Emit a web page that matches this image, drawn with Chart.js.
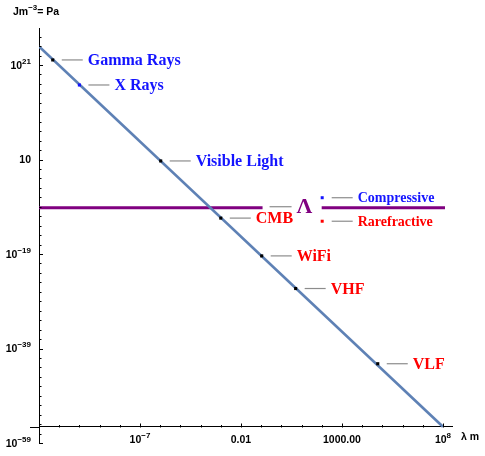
<!DOCTYPE html>
<html>
<head>
<meta charset="utf-8">
<script src="https://cdn.jsdelivr.net/npm/chart.js@4.4.1/dist/chart.umd.min.js"></script>
<style>
  html, body { margin: 0; padding: 0; background: #fff; }
  #wrap { width: 485px; height: 456px; }
</style>
</head>
<body>
<div id="wrap"><canvas id="my-chart"></canvas></div>
<script>
// straight line of radiation pressure vs wavelength (log-log), end points
var lineLambda = [1e-12, 1e8];
var linePressure = [8.7e24, 2.8e-56];

// marked bands on the line
var bandNames = ['Gamma Rays', 'X Rays', 'Visible Light', 'CMB', 'WiFi', 'VHF', 'VLF'];
var bandLambda = [4.8e-12, 1e-10, 1.06e-6, 1e-3, 0.106, 5.1, 5.9e4];
var bandPressure = [1.2e22, 6e16, 5, 4e-12, 4e-20, 5e-27, 6e-43];

// cosmological constant pressure (horizontal line, broken where its label sits)
var lambdaPressure = 6.3e-10;
var lambdaLineX = [1e-12, 0.117, 99, 1.26e8];
var legendNames = ['Compressive', 'Rarefractive'];

// tick labels ("^" marks the exponent)
var xTickValues = [1e-7, 1e-2, 1e3, 1e8];
var xTickLabels = ['10^-7', '0.01', '1000.00', '10^8'];
var yTickValues = [1e21, 10, 1e-19, 1e-39, 1e-59];
var yTickLabels = ['10^21', '10', '10^-19', '10^-39', '10^-59'];

var dotColors = ['#000', '#1414ff', '#000', '#000', '#000', '#000', '#000'];
var textColors = ['#1414ff', '#1414ff', '#1414ff', '#f00', '#f00', '#f00', '#f00'];

function sameDecade(a, b) {
    return Math.abs(Math.log10(a) - Math.log10(b)) < 1e-6;
}
function labelFor(values, labels, v) {
    for (var i = 0; i < values.length; i++) {
        if (sameDecade(values[i], v)) return labels[i];
    }
    return '';
}

// draws "base^exp" with a raised, smaller exponent; returns the end x
function drawSup(ctx, text, x, y, align, tail) {
    var parts = text.split('^');
    var base = parts[0], exp = (parts[1] || '').replace('-', '−');
    ctx.font = 'bold 10.5px "Liberation Sans"';
    var wb = ctx.measureText(base).width;
    ctx.font = 'bold 8px "Liberation Sans"';
    var we = exp ? ctx.measureText(exp).width : 0;
    ctx.font = 'bold 10.5px "Liberation Sans"';
    var wt = tail ? ctx.measureText(tail).width : 0;
    var total = wb + we + wt;
    var sx = align === 'right' ? x - total : (align === 'center' ? x - total / 2 : x);
    ctx.textAlign = 'left';
    ctx.textBaseline = 'middle';
    ctx.fillText(base, sx, y);
    if (exp) {
        ctx.font = 'bold 8px "Liberation Sans"';
        ctx.fillText(exp, sx + wb, y - 4.5);
    }
    if (tail) {
        ctx.font = 'bold 10.5px "Liberation Sans"';
        ctx.fillText(tail, sx + wb + we, y);
    }
}

var xMinor = [];
for (var k = -12; k <= 8; k++) xMinor.push(Math.pow(10, k));
var yMinor = [];
for (var k = -59; k <= 28; k += 2) yMinor.push(Math.pow(10, k));

// inward tick marks, tick labels and axis names
var axisDecor = {
    id: 'axisDecor',
    afterDraw: function (chart) {
        var ctx = chart.ctx, xs = chart.scales.x, ys = chart.scales.y;
        var axisY = Math.round(ys.getPixelForValue(linePressure[1])) + 0.5;
        ctx.save();
        ctx.strokeStyle = '#000';
        ctx.lineWidth = 1;
        ctx.beginPath();
        ctx.moveTo(xs.left - 9, axisY);
        ctx.lineTo(xs.left, axisY);
        xs.ticks.forEach(function (t) {
            var px = Math.round(xs.getPixelForValue(t.value)) + 0.5;
            var len = labelFor(xTickValues, xTickLabels, t.value) ? 4 : 2.5;
            ctx.moveTo(px, axisY);
            ctx.lineTo(px, axisY - len);
        });
        ys.ticks.forEach(function (t) {
            var py = Math.round(ys.getPixelForValue(t.value)) + 0.5;
            var len = labelFor(yTickValues, yTickLabels, t.value) ? 4 : 2.5;
            ctx.moveTo(xs.left, py);
            ctx.lineTo(xs.left + len, py);
        });
        ctx.stroke();

        ctx.fillStyle = '#000';
        for (var i = 0; i < xTickValues.length; i++) {
            drawSup(ctx, xTickLabels[i], xs.getPixelForValue(xTickValues[i]), axisY + 13, 'center');
        }
        for (var j = 0; j < yTickValues.length; j++) {
            drawSup(ctx, yTickLabels[j], xs.left - 8, ys.getPixelForValue(yTickValues[j]) + 1, 'right');
        }
        drawSup(ctx, 'λ m', xs.right + 9, axisY + 10, 'left');
        drawSup(ctx, 'Jm^-3', 13, 12, 'left', '= Pa');
        ctx.restore();
    }
};

// callout labels with grey leaders
var callouts = {
    id: 'callouts',
    afterDatasetsDraw: function (chart) {
        var ctx = chart.ctx, xs = chart.scales.x, ys = chart.scales.y;
        ctx.save();
        ctx.textBaseline = 'middle';
        ctx.textAlign = 'left';
        for (var i = 0; i < bandNames.length; i++) {
            var px = xs.getPixelForValue(bandLambda[i]);
            var py = ys.getPixelForValue(bandPressure[i]);
            ctx.strokeStyle = '#8c8c8c';
            ctx.lineWidth = 1.2;
            ctx.beginPath();
            ctx.moveTo(px + 9, py);
            ctx.lineTo(px + 30, py);
            ctx.stroke();
            ctx.fillStyle = textColors[i];
            ctx.font = 'bold 16px "Liberation Serif"';
            ctx.fillText(bandNames[i], px + 35, py + 1);
        }
        // Λ label in the gap of the purple line
        var gx = xs.getPixelForValue(lambdaLineX[1]);
        var gy = ys.getPixelForValue(lambdaPressure);
        ctx.strokeStyle = '#8c8c8c';
        ctx.beginPath();
        ctx.moveTo(gx + 7, gy - 1);
        ctx.lineTo(gx + 29, gy - 1);
        ctx.stroke();
        ctx.fillStyle = '#800080';
        ctx.font = 'bold 22px "Liberation Serif"';
        ctx.fillText('Λ', gx + 34, gy);
        // small legend
        var lx = xs.getPixelForValue(lambdaLineX[2]);
        var rows = [gy - 10, gy + 13.5];
        var cols = ['#1414ff', '#f00'];
        ctx.font = 'bold 14px "Liberation Serif"';
        for (var j = 0; j < legendNames.length; j++) {
            ctx.fillStyle = cols[j];
            ctx.fillRect(lx - 1, rows[j] - 1.5, 3, 3);
            ctx.strokeStyle = '#8c8c8c';
            ctx.beginPath();
            ctx.moveTo(lx + 10, rows[j]);
            ctx.lineTo(lx + 31, rows[j]);
            ctx.stroke();
            ctx.fillText(legendNames[j], lx + 36, rows[j] + 1);
        }
        ctx.restore();
    }
};

var ctx = document.getElementById('my-chart');

var myChart = new Chart(ctx, {
    type: 'scatter',
    data: {
        datasets: [
            {
                label: 'bands',
                data: bandLambda.map(function (l, i) { return { x: l, y: bandPressure[i] }; }),
                backgroundColor: dotColors,
                borderWidth: 0,
                pointRadius: 2.2,
                pointStyle: 'rect'
            },
            {
                label: 'pressure',
                data: lineLambda.map(function (l, i) { return { x: l, y: linePressure[i] }; }),
                showLine: true,
                borderColor: '#5e81b5',
                borderWidth: 2.6,
                pointRadius: 0
            },
            {
                label: 'Λ',
                data: [
                    { x: lambdaLineX[0], y: lambdaPressure },
                    { x: lambdaLineX[1], y: lambdaPressure },
                    { x: lambdaLineX[1], y: null },
                    { x: lambdaLineX[2], y: lambdaPressure },
                    { x: lambdaLineX[3], y: lambdaPressure }
                ],
                showLine: true,
                spanGaps: false,
                borderColor: '#800080',
                borderWidth: 3,
                pointRadius: 0
            }
        ]
    },
    options: {
        responsive: true,
        maintainAspectRatio: false,
        animation: false,
        layout: { padding: { left: 0, top: 28, right: 33, bottom: 13 } },
        plugins: {
            legend: { display: false },
            tooltip: { enabled: false }
        },
        scales: {
            x: {
                type: 'logarithmic',
                min: 1e-12,
                max: 2.8e8,
                position: { y: linePressure[1] },
                grid: { display: false },
                border: { display: true, color: '#000', width: 1 },
                ticks: { display: false, autoSkip: false, maxRotation: 0 },
                afterBuildTicks: function (scale) {
                    scale.ticks = xMinor.map(function (v) { return { value: v }; });
                },
                afterFit: function (scale) {
                    scale.paddingLeft = 0;
                    scale.paddingRight = 0;
                }
            },
            y: {
                type: 'logarithmic',
                min: 1e-59,
                max: 6.9e28,
                position: 'left',
                grid: { display: false },
                border: { display: true, color: '#000', width: 1 },
                ticks: { display: false, autoSkip: false },
                afterBuildTicks: function (scale) {
                    scale.ticks = yMinor.map(function (v) { return { value: v }; });
                },
                afterFit: function (scale) {
                    scale.width = 39;
                    scale.paddingTop = 0;
                    scale.paddingBottom = 0;
                }
            }
        }
    },
    plugins: [callouts, axisDecor]
});
</script>
</body>
</html>
